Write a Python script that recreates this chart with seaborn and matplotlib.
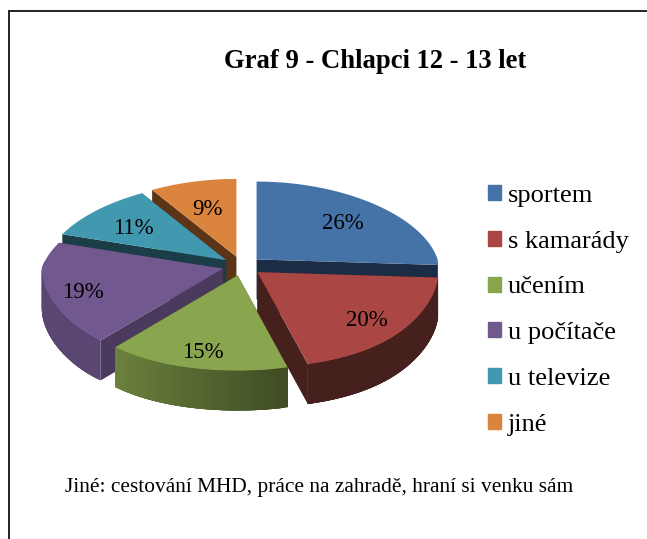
import matplotlib
matplotlib.use('Agg')
import matplotlib.pyplot as plt
from matplotlib.patches import Patch
import numpy as np
import seaborn as sns

labels = ['sportem', 's kamarády', 'učením', 'u počítače', 'u televize', 'jiné']
values = [26, 20, 15, 19, 11, 9]
colors = ['#4572A7', '#AA4643', '#89A54E', '#71588F', '#4198AF', '#DB843D']
side_colors = ['#1B2D45', '#45201C', '#3F4F22', '#4A3A5E', '#1A3D48', '#5B3515']
title = 'Graf 9 - Chlapci 12 - 13 let'
note = 'Jiné: cestování MHD, práce na zahradě, hraní si venku sám'

# pie geometry, in pixels of the figure
CX, CY = 242, 266
RX, RY = 181, 86.5
EXPLODE = 20
DEPTH = 40
LABEL_R = [0.73, 0.76, 0.79, 0.80, 0.72, 0.68]
DRAW_ORDER = [5, 4, 0, 3, 2, 1]  # back to front


def project(theta, r=1.0):
    """Tilted circle with some perspective, front side is bigger"""
    c, s = np.cos(theta), np.sin(theta)
    grow = np.where(s > 0, 1 - 0.155 * s, 1 - 0.13 * s ** 3)
    x = RX * grow * c * r
    y = -RY * (1 - 0.1 * s) * s * r
    return x, y


def draw_slice(ax, i, start, end):
    mid = (start + end) / 2
    ox = CX + EXPLODE * np.cos(mid)
    oy = CY - EXPLODE * 0.48 * np.sin(mid)
    t = np.linspace(start, end, 80)
    x, y = project(t)
    x, y = x + ox, y + oy

    # radial side faces
    for k in [0, -1]:
        ax.fill([ox, x[k], x[k], ox], [oy, y[k], y[k] + DEPTH, oy + DEPTH],
                color=side_colors[i], lw=0)
    # outer wall, lighter to the left; strips overlap so no seams show
    base = np.array(matplotlib.colors.to_rgb(colors[i]))
    n = len(t)
    for j in range(n - 1):
        if np.sin(t[j]) > 0.05:
            continue
        e = min(j + 4, n - 1)
        shade = np.clip(0.55 - 0.37 * np.cos(t[j]), 0.42, 0.8)
        ax.fill([x[j], x[e], x[e], x[j]],
                [y[j], y[e], y[e] + DEPTH, y[j] + DEPTH],
                color=base * shade if i != 1 else side_colors[i], lw=0)
    # top
    ax.fill(np.r_[ox, x], np.r_[oy, y], color=colors[i], lw=0)

    lx, ly = project(mid, LABEL_R[i])
    return ox + lx, oy + ly


sns.set_theme(style='white')
plt.rcParams['font.family'] = ['Liberation Serif', 'DejaVu Serif']

fig = plt.figure(figsize=(6.47, 5.39), dpi=100)
ax = fig.add_axes([0, 0, 1, 1])
ax.set_xlim(0, 647)
ax.set_ylim(539, 0)
ax.axis('off')

# page frame
ax.plot([647, 9, 9], [10.5, 10.5, 539], color='#222222', lw=1.4, solid_joinstyle='miter')

# angles clockwise from the top
vals = np.array(values, dtype=float)
edges = np.pi / 2 - 2 * np.pi * np.r_[0, np.cumsum(vals)] / vals.sum()

positions = {}
for i in DRAW_ORDER:
    positions[i] = draw_slice(ax, i, edges[i], edges[i + 1])

for i, v in enumerate(values):
    ax.text(positions[i][0], positions[i][1] + 4, f'{v}%', ha='center', va='center',
            fontsize=16.5, color='black')

ax.text(375.5, 61, title, ha='center', va='center', fontsize=19.2, fontweight='bold', color='black')
ax.text(65, 487.5, note, ha='left', va='center', fontsize=15.4, color='black')

handles = [Patch(color=c) for c in colors]
ax.legend(handles, labels, loc='upper left', bbox_to_anchor=(480 / 647, 1 - 177 / 539),
          frameon=False, fontsize=19, handlelength=0.5, handleheight=0.5,
          handletextpad=0.26, labelspacing=0.90, borderaxespad=0, borderpad=0.3,
          labelcolor='black')

fig.savefig('out.png', dpi=100)
